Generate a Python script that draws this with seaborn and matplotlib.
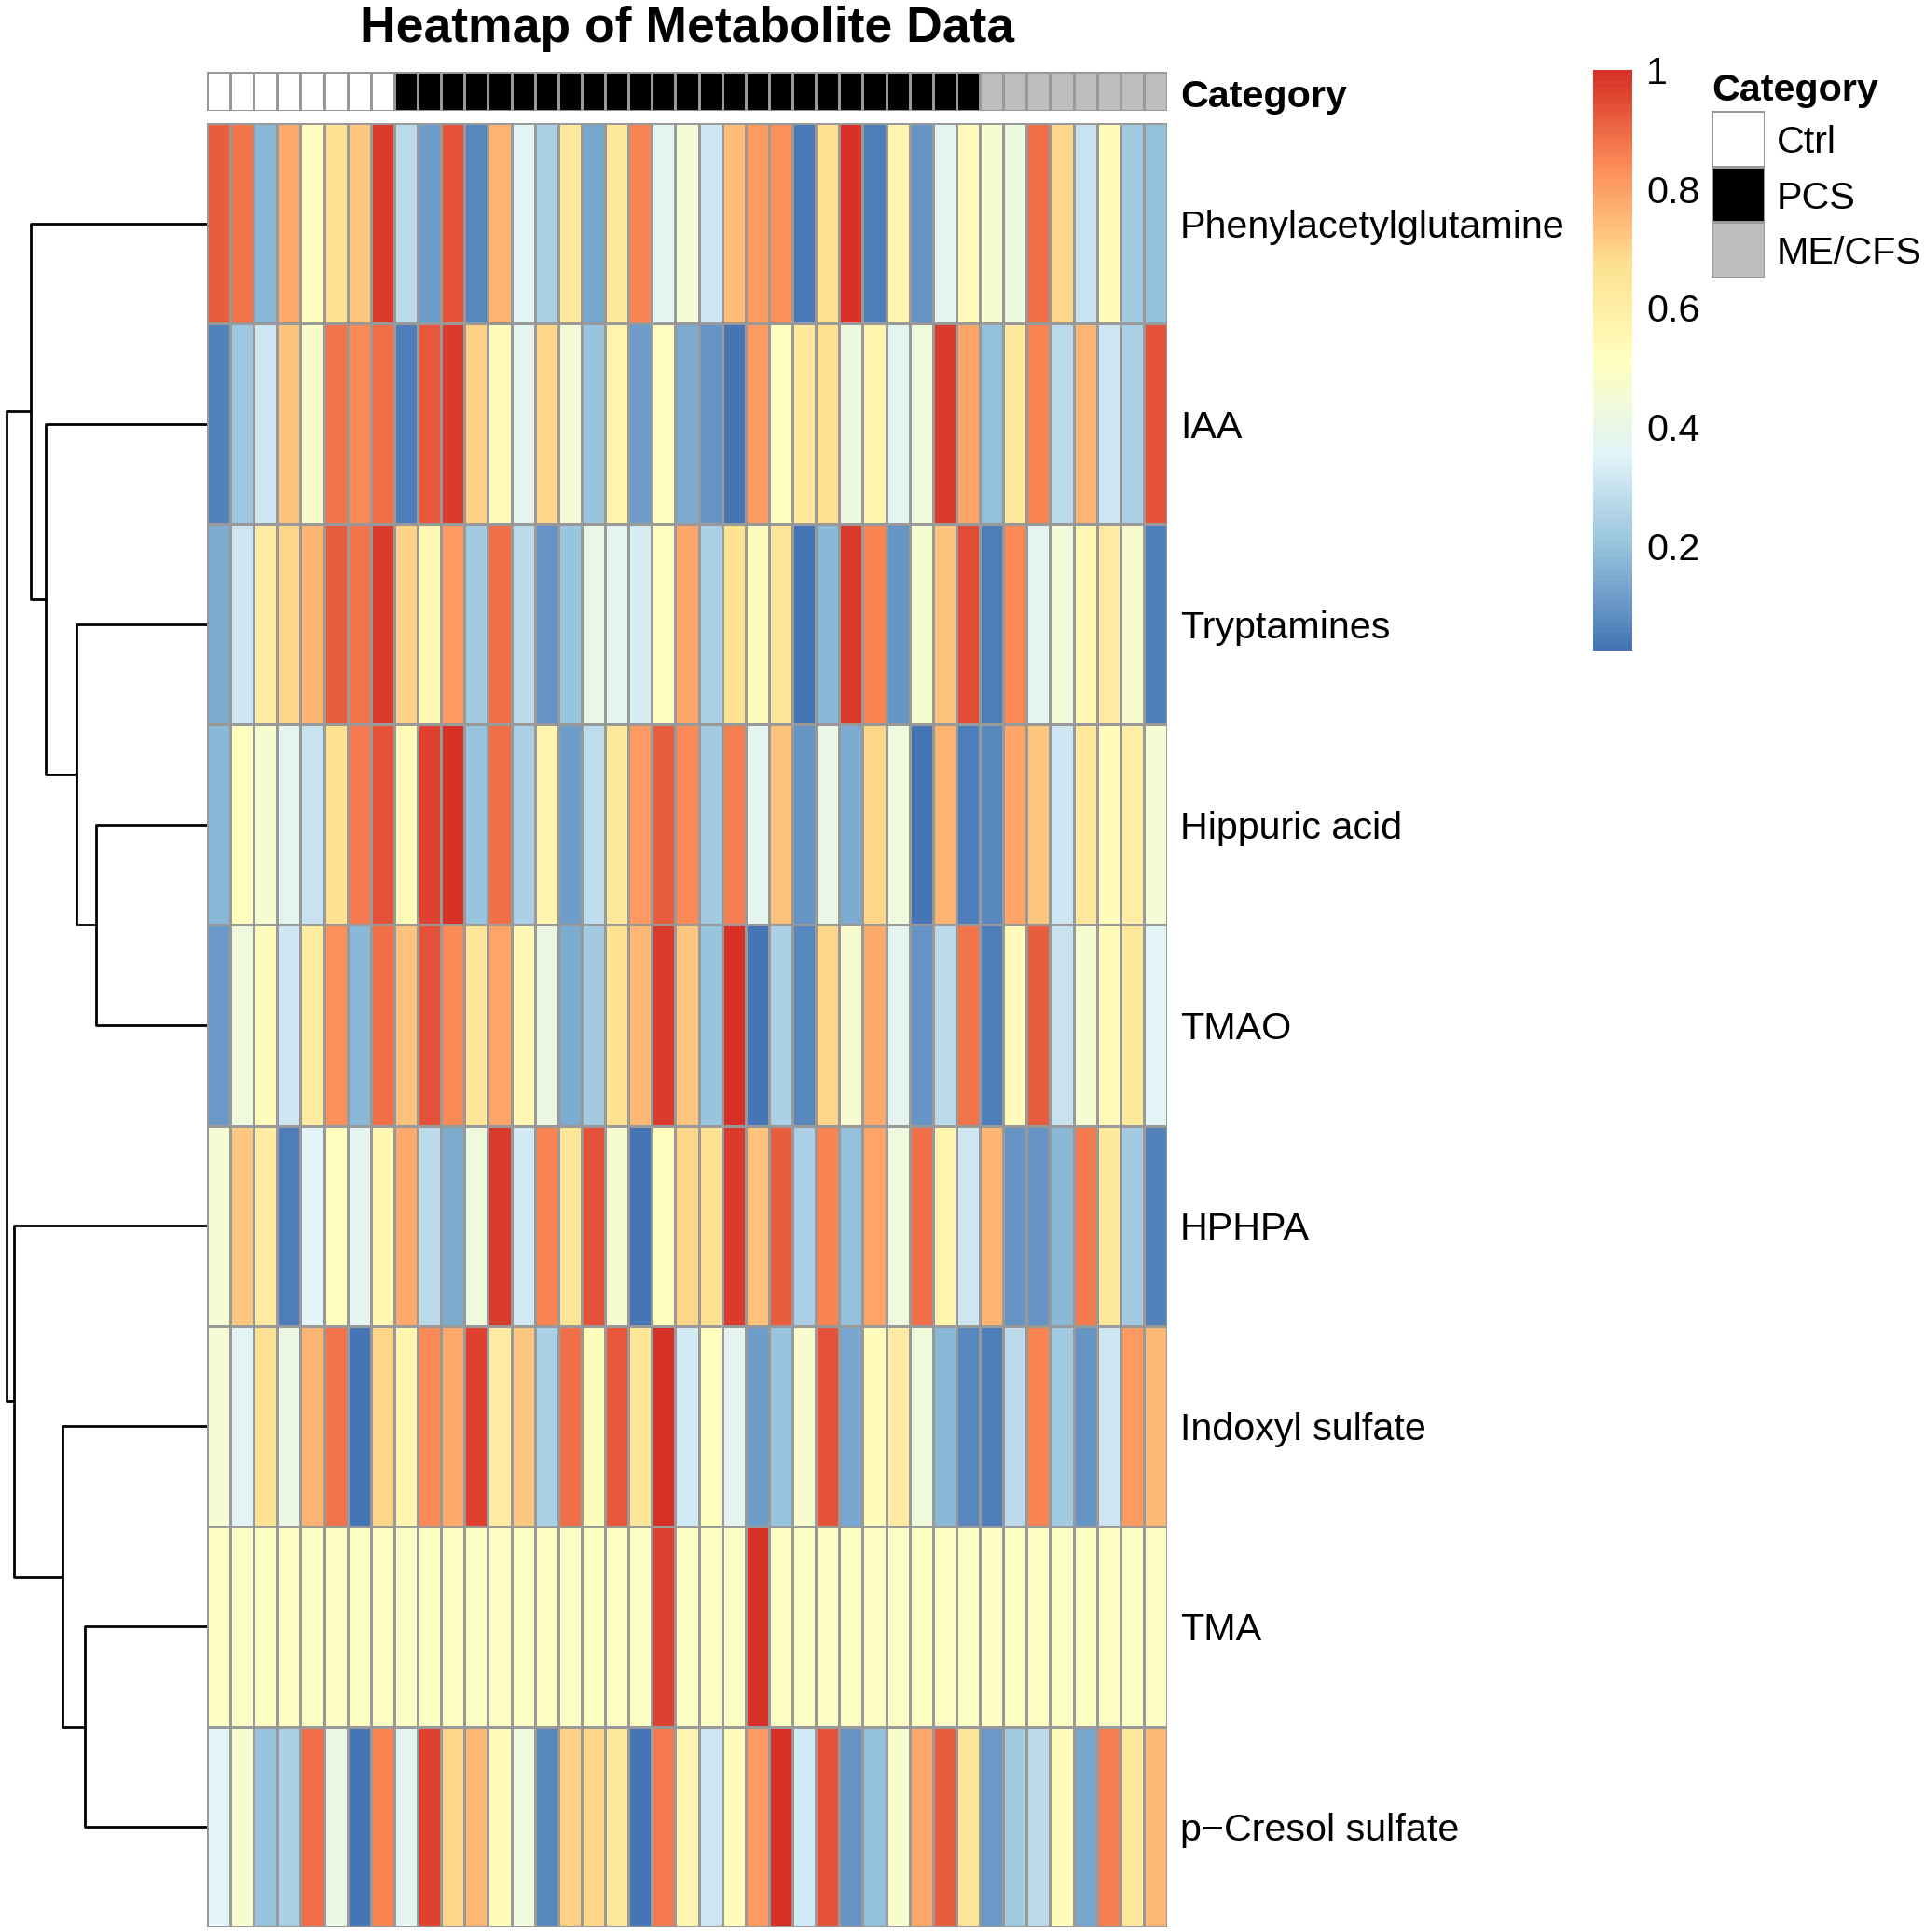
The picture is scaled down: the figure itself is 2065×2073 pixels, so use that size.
import numpy as np
import pandas as pd
import matplotlib
matplotlib.use("Agg")
import matplotlib.pyplot as plt
import seaborn as sns
from matplotlib.colors import LinearSegmentedColormap, ListedColormap

plt.rcParams['font.family'] = ['Liberation Sans', 'DejaVu Sans']

# ---------------- data ----------------
metabolites = ["Phenylacetylglutamine", "IAA", "Tryptamines", "Hippuric acid", "TMAO",
               "HPHPA", "Indoxyl sulfate", "TMA", "p\u2212Cresol sulfate"]

phenylacetylglutamine = [0.92, 0.88, 0.18, 0.78, 0.52, 0.66, 0.72, 0.98, 0.27, 0.12,
                         0.94, 0.07, 0.76, 0.36, 0.24, 0.63, 0.14, 0.63, 0.85, 0.37,
                         0.45, 0.31, 0.74, 0.81, 0.83, 0.04, 0.67, 1.00, 0.05, 0.57,
                         0.10, 0.37, 0.53, 0.47, 0.42, 0.89, 0.69, 0.30, 0.53, 0.22, 0.19]
iaa = [0.06, 0.21, 0.31, 0.73, 0.48, 0.88, 0.84, 0.89, 0.05, 0.93,
       0.98, 0.70, 0.53, 0.37, 0.69, 0.45, 0.20, 0.57, 0.12, 0.52,
       0.15, 0.10, 0.03, 0.81, 0.52, 0.63, 0.67, 0.42, 0.57, 0.37,
       0.43, 0.98, 0.79, 0.19, 0.63, 0.85, 0.27, 0.76, 0.31, 0.24, 0.94]
tryptamines = [0.15, 0.31, 0.61, 0.69, 0.76, 0.92, 0.88, 0.98, 0.70, 0.56,
               0.81, 0.22, 0.89, 0.27, 0.10, 0.20, 0.40, 0.37, 0.33, 0.52,
               0.79, 0.24, 0.66, 0.53, 0.64, 0.03, 0.18, 0.98, 0.85, 0.10,
               0.47, 0.73, 0.95, 0.05, 0.84, 0.37, 0.44, 0.56, 0.61, 0.47, 0.05]
hippuric_acid = [0.18, 0.52, 0.47, 0.37, 0.30, 0.67, 0.87, 0.94, 0.54, 0.97,
                 1.00, 0.20, 0.89, 0.24, 0.57, 0.12, 0.28, 0.63, 0.81, 0.92,
                 0.84, 0.22, 0.86, 0.37, 0.73, 0.10, 0.40, 0.15, 0.69, 0.43,
                 0.03, 0.76, 0.05, 0.07, 0.79, 0.72, 0.31, 0.63, 0.53, 0.60, 0.46]
tmao = [0.11, 0.43, 0.53, 0.31, 0.61, 0.83, 0.18, 0.89, 0.73, 0.94,
        0.84, 0.64, 0.79, 0.56, 0.41, 0.15, 0.22, 0.66, 0.75, 0.98,
        0.72, 0.20, 1.00, 0.03, 0.24, 0.07, 0.69, 0.47, 0.78, 0.37,
        0.10, 0.27, 0.88, 0.05, 0.53, 0.92, 0.30, 0.47, 0.54, 0.63, 0.36]
hphpa = [0.46, 0.72, 0.61, 0.05, 0.36, 0.52, 0.37, 0.56, 0.78, 0.27,
         0.15, 0.43, 0.98, 0.32, 0.85, 0.64, 0.94, 0.47, 0.03, 0.52,
         0.69, 0.66, 0.98, 0.73, 0.92, 0.24, 0.85, 0.19, 0.79, 0.43,
         0.89, 0.57, 0.31, 0.76, 0.10, 0.10, 0.18, 0.87, 0.63, 0.22, 0.06]
indoxyl_sulfate = [0.46, 0.36, 0.66, 0.41, 0.76, 0.88, 0.03, 0.69, 0.57, 0.84,
                   0.78, 0.97, 0.61, 0.72, 0.24, 0.89, 0.53, 0.93, 0.64, 1.00,
                   0.32, 0.52, 0.37, 0.12, 0.20, 0.47, 0.94, 0.14, 0.53, 0.61,
                   0.43, 0.18, 0.07, 0.05, 0.27, 0.85, 0.22, 0.10, 0.31, 0.81, 0.75]
tma = [0.50, 0.50, 0.50, 0.50, 0.50, 0.50, 0.50, 0.50, 0.50, 0.50,
       0.50, 0.50, 0.50, 0.50, 0.50, 0.50, 0.50, 0.50, 0.50, 0.97,
       0.50, 0.50, 0.50, 1.00, 0.50, 0.50, 0.50, 0.50, 0.50, 0.50,
       0.50, 0.50, 0.50, 0.50, 0.50, 0.50, 0.50, 0.50, 0.50, 0.50, 0.50]
p_cresol_sulfate = [0.36, 0.47, 0.20, 0.24, 0.89, 0.41, 0.03, 0.85, 0.37, 0.97,
                    0.69, 0.75, 0.53, 0.43, 0.07, 0.70, 0.69, 0.63, 0.03, 0.87,
                    0.57, 0.31, 0.53, 0.81, 1.00, 0.32, 0.94, 0.10, 0.19, 0.47,
                    0.78, 0.92, 0.64, 0.11, 0.22, 0.27, 0.53, 0.14, 0.86, 0.63, 0.75]

category_names = ["Ctrl", "PCS", "ME/CFS"]
category_sizes = [8, 25, 8]
category_colors = ["#FFFFFF", "#000000", "#BEBEBE"]

# row dendrogram merges: (left node, right node, height); leaves 0..8, new nodes 9..
row_merges = [(3, 4, 90), (7, 8, 99), (2, 9, 106), (6, 10, 117),
              (1, 11, 131), (0, 13, 143), (5, 12, 157), (14, 15, 163)]

legend_ticks = [0.2, 0.4, 0.6, 0.8, 1.0]
legend_labels = ["0.2", "0.4", "0.6", "0.8", "1"]

# ---------------- build ----------------
rows = [phenylacetylglutamine, iaa, tryptamines, hippuric_acid, tmao,
        hphpa, indoxyl_sulfate, tma, p_cresol_sulfate]
mat = pd.DataFrame(np.array(rows), index=metabolites)
cat_codes = np.concatenate([np.full(n, i) for i, n in enumerate(category_sizes)])

W, H = 2065, 2073
fig = plt.figure(figsize=(W / 100, H / 100), dpi=100)


def rect(x0, y0, x1, y1):
    return [x0 / W, 1 - y1 / H, (x1 - x0) / W, (y1 - y0) / H]


rdylbu7 = ["#4575B4", "#91BFDB", "#E0F3F8", "#FFFFBF", "#FEE090", "#FC8D59", "#D73027"]
cmap = LinearSegmentedColormap.from_list("rdylbu_r", rdylbu7, N=100)
grid = "#999999"
fs = 29.7
VA = 'center_baseline'

# heatmap
ax = fig.add_axes(rect(222, 132, 1252, 2068))
sns.heatmap(mat, ax=ax, cmap=cmap, vmin=0.024, vmax=1.0, cbar=False,
            linewidths=2.0, linecolor=grid, xticklabels=False, yticklabels=True)
ax.yaxis.tick_right()
ax.tick_params(axis='y', length=0, pad=10, labelsize=fs)
for t in ax.get_yticklabels():
    t.set_rotation(0)
    t.set_va(VA)
    t.set_ha('left')
ax.set_xlabel("")
ax.set_ylabel("")

# annotation bar
axa = fig.add_axes(rect(222, 77, 1252, 119))
sns.heatmap(cat_codes.reshape(1, -1), ax=axa, cmap=ListedColormap(category_colors),
            vmin=-0.5, vmax=2.5, cbar=False, linewidths=2.0, linecolor=grid,
            xticklabels=False, yticklabels=False)
fig.text(1266 / W, 1 - 100 / H, "Category", fontsize=fs, fontweight='bold',
         ha='left', va=VA)

# dendrogram
axd = fig.add_axes(rect(0, 132, 222, 2068))
pos = {i: i + 0.5 for i in range(len(metabolites))}
hgt = {i: 0.0 for i in range(len(metabolites))}
for k, (a, b, h) in enumerate(row_merges):
    nid = len(metabolites) + k
    axd.plot([hgt[a], h, h, hgt[b]], [pos[a], pos[a], pos[b], pos[b]],
             color='black', lw=2.0, solid_capstyle='butt')
    pos[nid] = (pos[a] + pos[b]) / 2
    hgt[nid] = h
axd.set_ylim(len(metabolites), 0)
axd.set_xlim(168, 0)
axd.axis('off')

# title
fig.text(737 / W, 1 - 26 / H, "Heatmap of Metabolite Data", fontsize=38.5,
         fontweight='bold', ha='center', va=VA)

# colorbar
cax = fig.add_axes(rect(1709, 75, 1751, 698))
cb = fig.colorbar(ax.collections[0], cax=cax, ticks=legend_ticks)
cb.outline.set_visible(False)
cax.set_yticklabels(legend_labels)
cax.tick_params(axis='y', length=0, pad=11, labelsize=fs)
for t in cax.get_yticklabels():
    t.set_ha('left')
    t.set_va(VA)

# category legend
axl = fig.add_axes(rect(1836, 119, 1893, 298))
sns.heatmap(np.arange(len(category_names)).reshape(-1, 1), ax=axl,
            cmap=ListedColormap(category_colors), vmin=-0.5, vmax=2.5, cbar=False,
            linewidths=2.0, linecolor=grid, xticklabels=False,
            yticklabels=category_names)
axl.yaxis.tick_right()
axl.tick_params(axis='y', length=0, pad=9, labelsize=fs)
for t in axl.get_yticklabels():
    t.set_rotation(0)
    t.set_va(VA)
    t.set_ha('left')
fig.text(1836 / W, 1 - 93 / H, "Category", fontsize=fs, fontweight='bold',
         ha='left', va=VA)

fig.savefig("out.png", dpi=100)
